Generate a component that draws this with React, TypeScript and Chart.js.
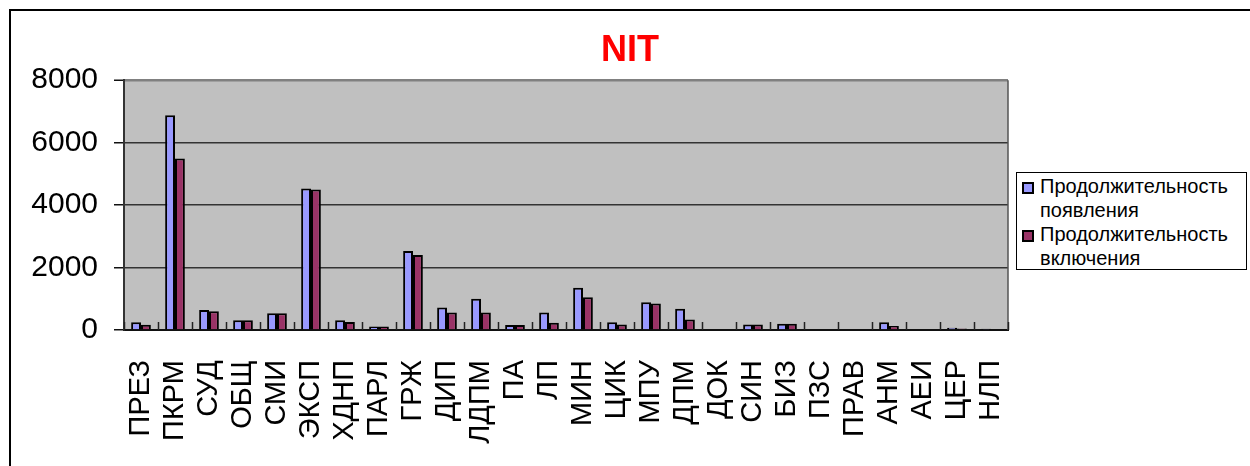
import React, { useEffect, useRef } from 'react';
import { Chart, registerables } from 'chart.js';

Chart.register(...registerables);

const chartTitle = 'NIT';
const categories = ['ПРЕЗ', 'ПКРМ', 'СУД', 'ОБЩ', 'СМИ', 'ЭКСП', 'ХДНП', 'ПАРЛ', 'ГРЖ', 'ДИП', 'ЛДПМ', 'ПА', 'ЛП', 'МИН', 'ЦИК', 'МПУ', 'ДПМ', 'ДОК', 'СИН', 'БИЗ', 'ПЗС', 'ПРАВ', 'АНМ', 'АЕИ', 'ЦЕР', 'НЛП'];
const appearance = [250, 6880, 640, 310, 540, 4530, 310, 110, 2530, 720, 1000, 160, 560, 1350, 250, 890, 680, 0, 180, 200, 0, 0, 250, 0, 70, 40];
const inclusion = [170, 5490, 600, 310, 540, 4500, 260, 110, 2400, 560, 560, 160, 230, 1050, 180, 850, 340, 0, 180, 200, 0, 0, 130, 0, 50, 0];
const seriesNames = ['Продолжительность появления', 'Продолжительность включения'];
const seriesColors = ['#9999FF', '#993366'];
const yMin = 0;
const yMax = 8000;
const yStep = 2000;

const FONT = "'Liberation Sans', Arial, Helvetica, sans-serif";

export default function App() {
  const ref = useRef<HTMLCanvasElement | null>(null);

  useEffect(() => {
    if (!ref.current) return;
    const plotDecor = {
      id: 'plotDecor',
      beforeDraw(chart: any) {
        const { ctx, chartArea: a } = chart;
        ctx.save();
        ctx.fillStyle = '#C0C0C0';
        ctx.fillRect(a.left, a.top, a.right - a.left, a.bottom - a.top);
        ctx.restore();
      },
      afterDraw(chart: any) {
        const { ctx, chartArea: a } = chart;
        const n = categories.length;
        const w = (a.right - a.left) / n;
        ctx.save();
        ctx.strokeStyle = '#555';
        ctx.lineWidth = 1.5;
        ctx.beginPath();
        ctx.moveTo(a.right, a.top);
        ctx.lineTo(a.right, a.bottom);
        ctx.stroke();
        ctx.strokeStyle = '#222';
        ctx.lineWidth = 1.5;
        for (let i = 0; i <= n; i++) {
          const x = Math.round(a.left + i * w) + 0.5;
          ctx.beginPath();
          ctx.moveTo(x, a.bottom - 8);
          ctx.lineTo(x, a.bottom);
          ctx.stroke();
        }
        ctx.restore();
      },
    };

    const chart = new Chart(ref.current, {
      type: 'bar',
      data: {
        labels: categories,
        datasets: [
          {
            label: seriesNames[0],
            data: appearance,
            backgroundColor: seriesColors[0],
            borderColor: '#000',
            borderWidth: 2,
            categoryPercentage: 0.58,
            barPercentage: 1,
          },
          {
            label: seriesNames[1],
            data: inclusion,
            backgroundColor: seriesColors[1],
            borderColor: '#000',
            borderWidth: 2,
            categoryPercentage: 0.58,
            barPercentage: 1,
          },
        ],
      },
      options: {
        animation: false,
        responsive: false,
        devicePixelRatio: 1,
        layout: { padding: { left: 10, top: 0, right: 0, bottom: 0 } },
        plugins: {
          legend: { display: false },
          tooltip: { enabled: false },
          title: {
            display: true,
            text: chartTitle,
            color: '#FF0000',
            font: { family: FONT, size: 36, weight: 'bold' },
            padding: { top: 29, bottom: 8 },
          },
        },
        scales: {
          x: {
            grid: { display: false },
            border: { display: true, color: '#111', width: 2 },
            ticks: {
              color: '#000',
              font: { family: FONT, size: 29 },
              minRotation: 90,
              maxRotation: 90,
              autoSkip: false,
              padding: 22,
            },
            afterFit(scale: any) {
              scale.height = 136;
            },
          },
          y: {
            min: yMin,
            max: yMax,
            ticks: {
              stepSize: yStep,
              color: '#000',
              font: { family: FONT, size: 30 },
              padding: 16,
              callback: (v: any) => String(v),
            },
            grid: {
              color: (c: any) => (c.tick && c.tick.value === yMax ? '#808080' : '#333'),
              lineWidth: (c: any) => (c.tick && c.tick.value === yMax ? 2.5 : 1.5),
              tickColor: '#111',
              tickLength: 10,
              tickWidth: 1.5,
            },
            border: { display: true, color: '#333', width: 2 },
            afterFit(scale: any) {
              scale.width = 114;
            },
          },
          yRight: {
            type: 'linear',
            position: 'right',
            display: true,
            grid: { display: false, drawTicks: false },
            ticks: { display: false },
            border: { display: false },
            afterFit(scale: any) {
              scale.width = 242;
            },
          },
        },
      },
      plugins: [plotDecor],
    } as any);

    return () => chart.destroy();
  }, []);

  return (
    <div style={{ position: 'absolute', left: 0, top: 0, width: 1250, height: 466, overflow: 'hidden', background: '#fff' }}>
      <div
        style={{
          position: 'absolute',
          left: 9,
          top: 9,
          width: 1300,
          height: 600,
          borderLeft: '2px solid #000',
          borderTop: '2px solid #000',
        }}
      />
      <canvas ref={ref} width={1250} height={466} style={{ position: 'absolute', left: 0, top: 0 }} />
      <div
        style={{
          position: 'absolute',
          left: 1016,
          top: 172,
          width: 229,
          height: 95,
          border: '1px solid #000',
          background: '#fff',
          fontFamily: FONT,
          fontSize: 20,
          lineHeight: '24px',
          color: '#000',
          paddingTop: 1,
          boxSizing: 'content-box',
          whiteSpace: 'nowrap',
        }}
      >
        {seriesNames.map((name, i) => {
          const parts = name.split(' ');
          return (
            <div key={name} style={{ position: 'relative', paddingLeft: 23 }}>
              <span
                style={{
                  position: 'absolute',
                  left: 5,
                  top: 8,
                  width: 8,
                  height: 8,
                  border: '2px solid #000',
                  background: seriesColors[i],
                }}
              />
              <div>{parts[0]}</div>
              <div>{parts.slice(1).join(' ')}</div>
            </div>
          );
        })}
      </div>
    </div>
  );
}
